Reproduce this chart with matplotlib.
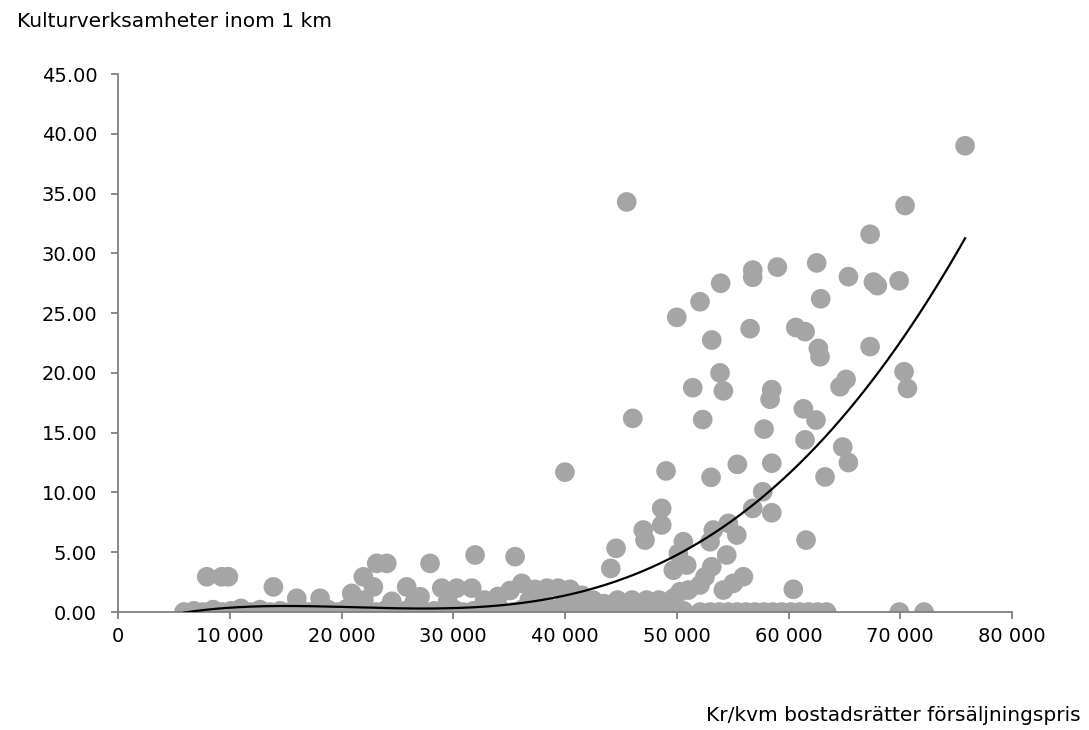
import numpy as np
import matplotlib
matplotlib.use("Agg")
import matplotlib.pyplot as plt
from matplotlib.ticker import FuncFormatter, MultipleLocator

# price per sqm (kr) and number of cultural venues within 1 km
# bottom band, values close to zero
low_x = [5900, 6800, 7600, 8500, 9300, 10100, 11000, 11900, 12700, 13600,
         14500, 15300, 16200, 17100, 17900, 18800, 19700, 20500, 21400, 22300,
         23100, 24000, 24900, 25700, 26600, 27500, 28300, 29200, 30100, 30900,
         31800, 32700, 33500, 34400, 35300, 36100, 37000, 37900, 38700, 39600,
         40500, 41300, 42200, 43100, 43900, 44800, 45700, 46500, 47400, 48300,
         49100, 50000, 50600,
         52100, 53000, 53800, 54600, 55400, 56200, 57000, 57800, 58600, 59400,
         60200, 61000, 61800, 62600, 63400, 69920, 72130]
low_y = [0.0, 0.1, 0.0, 0.2, 0.0, 0.1, 0.3, 0.0, 0.2, 0.0,
         0.1, 0.0, 0.3, 0.0, 0.1, 0.2, 0.0, 0.3, 0.0, 0.1,
         0.0, 0.2, 0.0, 0.1, 0.3, 0.0, 0.1, 0.0, 0.2, 0.0,
         0.1, 0.3, 0.0, 0.1, 0.0, 0.2, 0.0, 0.1, 0.3, 0.0,
         0.1, 0.0, 0.2, 0.0, 0.1, 0.0, 0.2, 0.0, 0.1, 0.0,
         0.2, 0.0, 0.1,
         0.0, 0.0, 0.0, 0.0, 0.0, 0.0, 0.0, 0.0, 0.0, 0.0,
         0.0, 0.0, 0.0, 0.0, 0.0, 0.0, 0.0]

# second layer, 0.5 - 5
mid_x = [7940, 9280, 9870, 13900, 15990, 18080, 20910, 22850, 21950, 23150,
         24050, 25830, 27920, 27030, 28970, 30310, 31950, 35530, 31650, 34000,
         35080, 36130, 37320, 38390, 39380, 40450, 41520, 42500, 22000, 24500,
         26500, 29500, 32800, 33500, 36800, 38000, 40000, 41000, 43500, 44700,
         46000, 47300, 48400, 49690, 50290, 44090, 44570, 49690, 50140, 50890,
         51040, 52080, 52530, 53130, 54170, 55060, 55960, 54470, 60430]
mid_y = [2.95, 2.95, 2.95, 2.1, 1.15, 1.15, 1.56, 2.1, 2.95, 4.07,
         4.07, 2.1, 4.07, 1.28, 2.0, 2.0, 4.77, 4.63, 2.0, 1.3,
         1.8, 2.4, 1.9, 2.0, 2.0, 1.9, 1.4, 1.0, 1.0, 0.9,
         0.8, 0.9, 1.0, 0.7, 1.0, 0.8, 1.0, 0.6, 0.7, 1.0,
         1.0, 1.0, 1.0, 1.15, 1.7, 3.65, 5.33, 3.5, 4.9, 3.93,
         1.84, 2.26, 2.95, 3.79, 1.84, 2.4, 2.95, 4.77, 1.9]

# upper scatter
high_x = [39990, 45520, 59000, 56800, 56800, 53930, 52080, 50000, 56560, 53130,
          53870, 54170, 51430, 58500, 58350, 46060, 52320, 57810, 49040, 55420,
          58500, 53070, 57690, 58500, 56800, 48650, 48650, 47000, 47160, 50590,
          53270, 52980, 54620, 55370, 75800, 70430, 67300, 62520, 65360, 67600,
          67950, 69900, 62880, 60650, 61480, 62670, 62820, 67300, 70340, 70640,
          65150, 64610, 61330, 62460, 61480, 64850, 65360, 63270, 61570]
high_y = [11.7, 34.3, 28.85, 28.6, 28.0, 27.5, 25.95, 24.65, 23.7, 22.75,
          20.0, 18.5, 18.76, 18.6, 17.8, 16.2, 16.1, 15.3, 11.8, 12.35,
          12.45, 11.27, 10.06, 8.3, 8.67, 8.67, 7.28, 6.86, 6.02, 5.88,
          6.86, 5.88, 7.42, 6.44, 39.0, 34.0, 31.6, 29.2, 28.05, 27.6,
          27.3, 27.7, 26.2, 23.8, 23.45, 22.05, 21.35, 22.2, 20.1, 18.7,
          19.46, 18.84, 17.0, 16.06, 14.4, 13.8, 12.5, 11.3, 6.02]

# trend line (smoothed with a polynomial below)
trend_x = [5900, 9730, 12700, 18080, 23150, 26500, 29410, 32400, 35350, 38360,
           41340, 44330, 47610, 50290, 52680, 57160, 61630, 66100, 70580, 75800]
trend_y = [0.03, 0.31, 0.42, 0.45, 0.31, 0.24, 0.22, 0.45, 0.86, 1.3,
           1.75, 2.6, 3.65, 4.75, 5.88, 9.09, 13.0, 18.0, 23.6, 31.06]

x = np.array(low_x + mid_x + high_x, dtype=float)
y = np.array(low_y + mid_y + high_y, dtype=float)

fig = plt.figure(figsize=(10.89, 7.30), dpi=100)
ax = fig.add_axes([0.1084, 0.1616, 0.8209, 0.7370])

ax.scatter(x, y, s=200, color='#a5a5a5', edgecolors='none', zorder=2)

tx = np.array(trend_x, dtype=float) / 10000
coef = np.polyfit(tx, trend_y, 4)
xs = np.linspace(tx.min(), tx.max(), 300)
ax.plot(xs * 10000, np.polyval(coef, xs), color='black', lw=1.6, zorder=3)

ax.set_xlim(0, 80000)
ax.set_ylim(0, 45)
ax.xaxis.set_major_locator(MultipleLocator(10000))
ax.yaxis.set_major_locator(MultipleLocator(5))
ax.xaxis.set_major_formatter(FuncFormatter(lambda v, p: f'{int(v):,}'.replace(',', ' ')))
ax.yaxis.set_major_formatter(FuncFormatter(lambda v, p: f'{v:.2f}'))

for s in ['top', 'right']:
    ax.spines[s].set_visible(False)
for s in ['left', 'bottom']:
    ax.spines[s].set_color('#7f7f7f')
    ax.spines[s].set_linewidth(1.3)
ax.tick_params(axis='both', direction='out', length=5, width=1.3, color='#7f7f7f',
               labelsize=14, labelcolor='black')
ax.tick_params(axis='y', pad=10)
ax.tick_params(axis='x', pad=6)

fig.text(17 / 1089, 1 - 27 / 730, 'Kulturverksamheter inom 1 km', fontsize=14.5,
         ha='left', va='baseline')
fig.text(1081 / 1089, 1 - 721 / 730, 'Kr/kvm bostadsrätter försäljningspris',
         fontsize=14.5, ha='right', va='baseline')

fig.savefig('out.png', dpi=100)
